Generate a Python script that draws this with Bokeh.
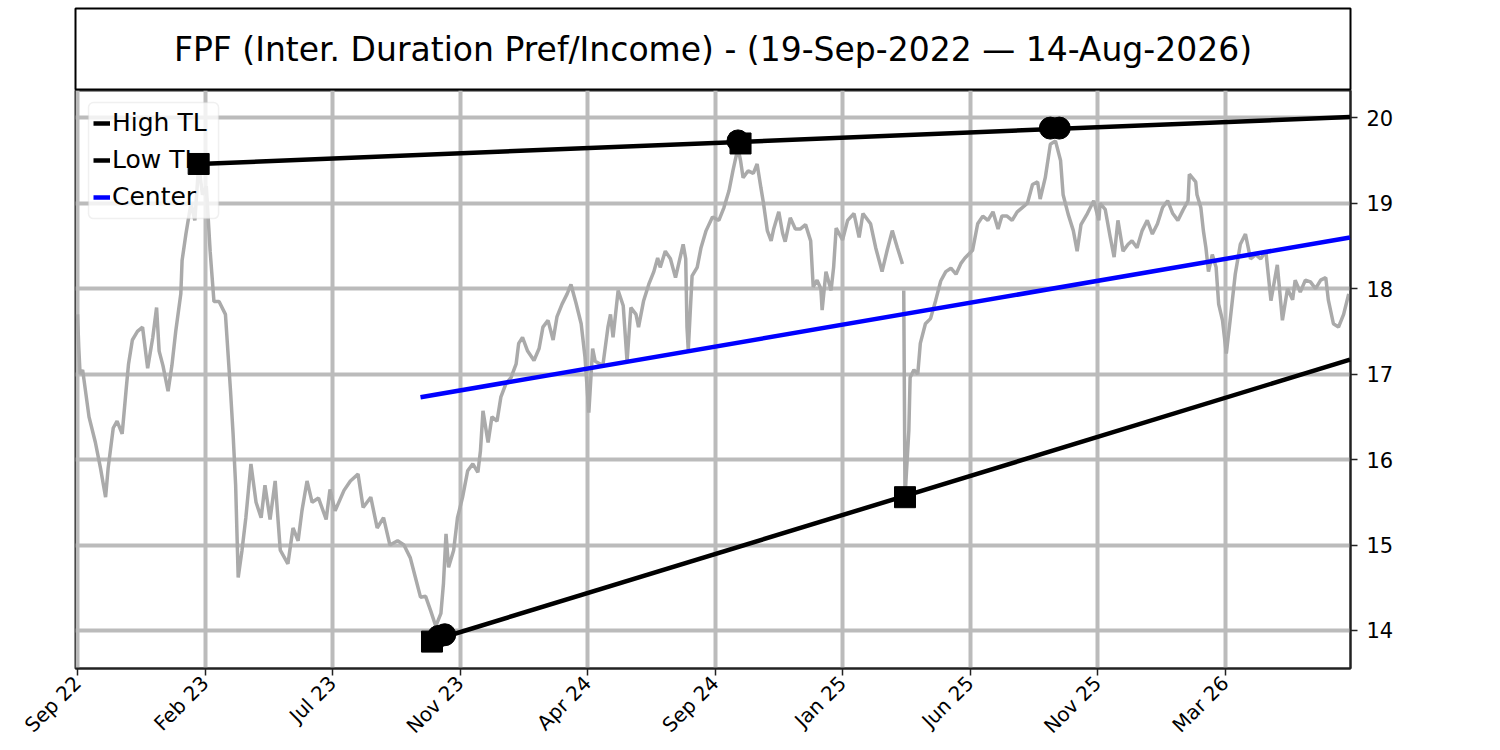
import math
from bokeh.plotting import figure
from bokeh.models import Range1d, FixedTicker, Legend, LegendItem, BoxAnnotation
from bokeh.layouts import column
from bokeh.embed import file_html
from bokeh.resources import INLINE
from bokeh.core.properties import value

title_text = "FPF (Inter. Duration Pref/Income) - (19-Sep-2022 \u2014 14-Aug-2026)"

tick_positions = [0, 100, 200, 300, 400, 500, 600, 700, 800, 900]
tick_labels = ["Sep 22", "Feb 23", "Jul 23", "Nov 23", "Apr 24",
               "Sep 24", "Jan 25", "Jun 25", "Nov 25", "Mar 26"]
y_ticks = [14, 15, 16, 17, 18, 19, 20]

nan = float("nan")

bar_index = [
    0, 1, 2, 4, 9, 14, 18, 22, 24, 28, 31, 35, 38, 40, 43, 47, 51, 55, 59, 62,
    64, 67, 71, 74, 77, 81, 82, 85, 89, 92, 95, 98, 101, 104, 107, 111, 116, 120, 122, 124,
    126, 129, 132, 136, 140, 144, 147, 151, 155, 159, 165, 169, 173, 176, 180, 184, 189, 195, 198, 202,
    209, 214, 220, 224, 230, 235, 240, 245, 251, 256, 261, 265, 269, 273, 277, 281, 285, 287, 289, 291,
    295, 298, 302, 306, 310, 314, 316, 318, 322, 325, 329, 332, 336, 340, 344, 346, 349, 353, 358, 362,
    365, 369, 373, 376, 380, 384, 387, 391, 395, 398, 401, 404, 406, 412, 416, 418, 420, 424, 428, 431,
    434, 438, 440, 444, 448, 452, 455, 457, 461, 465, 469, 475, 477, 478, 479, 482, 486, 489, 493, 498,
    503, 507, 511, 514, 518, 520, 522, 526, 530, 533, 536, 538, 541, 544, 546, 550, 553, 555, 559, 563,
    567, 571, 575, 577, 580, 583, 584, 587, 591, 593, 595, 600, 604, 609, 613, 616, 622, 626, 631, 635,
    639, 643, 647, 647.5, 648, 649, 652, 653, 656, 659, 661, 665, 669, 673, 677, 681, 685, 689, 693, 696,
    702, 706, 710, 714, 718, 722, 725, 729, 733, 737, 741, 745, 749, 753, 755, 759, 763, 767, 771, 773,
    777, 781, 784, 787, 792, 797, 801, 802, 806, 810, 813, 816, 820, 824, 827, 831, 835, 839, 843, 847,
    851, 855, 859, 863, 867, 871, 872, 877, 878, 881, 883, 885, 887, 890, 893, 895, 898, 901, 904, 908,
    912, 916, 920, 924, 928, 932, 936, 941, 945, 949, 953, 955, 959, 963, 967, 971, 975, 979, 981, 985,
    989, 993, 997,
]

close = [
    17.7, 17.3, 17.0, 17.05, 16.5, 16.2, 15.9, 15.56, 15.9, 16.37, 16.45, 16.3, 16.8, 17.12, 17.4, 17.5, 17.55, 17.07, 17.43, 17.78,
    17.27, 17.1, 16.8, 17.1, 17.5, 17.94, 18.33, 18.64, 19.0, 18.8, 19.45, 19.1, 19.2, 18.44, 17.85, 17.85, 17.7, 16.8, 16.3, 15.7,
    14.62, 14.94, 15.32, 15.95, 15.5, 15.32, 15.7, 15.3, 15.75, 14.94, 14.78, 15.2, 15.05, 15.4, 15.75, 15.5, 15.55, 15.3, 15.65, 15.4,
    15.64, 15.75, 15.83, 15.44, 15.56, 15.2, 15.32, 15.0, 15.05, 15.0, 14.85, 14.62, 14.39, 14.4, 14.23, 14.05, 14.2, 14.55, 15.13, 14.74,
    14.94, 15.32, 15.56, 15.87, 15.95, 15.85, 16.1, 16.57, 16.2, 16.5, 16.45, 16.73, 16.89, 16.96, 17.12, 17.36, 17.43, 17.27, 17.16, 17.3,
    17.55, 17.63, 17.4, 17.67, 17.82, 17.94, 18.05, 17.83, 17.59, 17.2, 16.55, 17.3, 17.15, 17.1, 17.55, 17.7, 17.43, 17.98, 17.8, 17.15,
    17.78, 17.7, 17.55, 17.86, 18.05, 18.2, 18.36, 18.25, 18.44, 18.35, 18.13, 18.52, 18.35, 17.55, 17.28, 18.15, 18.25, 18.48, 18.68, 18.84,
    18.8, 18.95, 19.15, 19.38, 19.65, 19.5, 19.3, 19.38, 19.35, 19.46, 19.18, 19.0, 18.68, 18.56, 18.7, 18.9, 18.65, 18.55, 18.83, 18.7,
    18.7, 18.75, 18.56, 18.02, 18.1, 18.0, 17.75, 18.2, 17.98, 18.25, 18.71, 18.57, 18.8, 18.88, 18.6, 18.88, 18.76, 18.48, 18.2, 18.45,
    18.68, 18.48, 18.29, nan, 17.98, 15.56, 16.34, 16.96, 17.05, 17.0, 17.36, 17.59, 17.65, 17.86, 18.09, 18.2, 18.24, 18.17, 18.3, 18.36,
    18.45, 18.76, 18.85, 18.8, 18.9, 18.7, 18.85, 18.85, 18.8, 18.9, 18.95, 19.0, 19.22, 19.25, 19.05, 19.3, 19.69, 19.73, 19.5, 19.1,
    18.87, 18.68, 18.44, 18.75, 18.88, 19.03, 18.8, 19.0, 18.93, 18.6, 18.37, 18.8, 18.44, 18.52, 18.56, 18.48, 18.68, 18.8, 18.64, 18.76,
    18.95, 19.03, 18.88, 18.8, 18.92, 19.03, 19.34, 19.25, 19.1, 18.95, 18.68, 18.48, 18.2, 18.4, 18.25, 17.82, 17.63, 17.24, 17.63, 18.17,
    18.52, 18.64, 18.35, 18.4, 18.35, 18.44, 17.86, 18.28, 17.63, 18.0, 17.87, 18.1, 17.96, 18.1, 18.08, 18.0, 18.1, 18.13, 17.87, 17.59,
    17.55, 17.7, 17.94,
]

high_tl_x = [95, 998]
high_tl_y = [19.46, 20.01]
low_tl_x = [278, 998]
low_tl_y = [13.88, 17.17]
center_x = [269, 998]
center_y = [16.73, 18.60]

square_x = [95, 520, 278, 649]
square_y = [19.46, 19.70, 13.87, 15.56]
circle_x = [518, 763, 770, 283, 288]
circle_y = [19.73, 19.88, 19.88, 13.93, 13.95]

FONT = "DejaVu Sans"
W = 1490
LEFT = 75
RIGHT = W - 1350

# ---- title box ----
tp = figure(width=W, height=90, x_range=Range1d(0, 1), y_range=Range1d(0, 1),
            toolbar_location=None, output_backend="svg",
            x_axis_location=None, y_axis_location=None,
            min_border_left=LEFT, min_border_right=RIGHT, min_border_top=8, min_border_bottom=0)
tp.grid.visible = False
tp.outline_line_color = "black"
tp.outline_line_width = 2
tp.text(x=[0.5], y=[0.5], text=[title_text], text_align="center", text_baseline="middle",
        text_font=value(FONT), text_font_size="33px", text_color="black")

# ---- main chart ----
p = figure(width=W, height=660, x_range=Range1d(-1.6, 998.4), y_range=Range1d(13.555, 20.32),
           toolbar_location=None, output_backend="svg", y_axis_location="right",
           min_border_left=LEFT, min_border_right=RIGHT, min_border_top=0, min_border_bottom=82)
p.outline_line_color = "#222222"
p.outline_line_width = 2

p.xaxis.ticker = FixedTicker(ticks=tick_positions)
p.xaxis.major_label_overrides = {t: l for t, l in zip(tick_positions, tick_labels)}
p.xaxis.major_label_orientation = math.pi / 4
p.yaxis.ticker = FixedTicker(ticks=y_ticks)
for ax in (p.xaxis[0], p.yaxis[0]):
    ax.major_label_text_font = FONT
    ax.major_label_text_color = "black"
    ax.axis_line_color = "#222222"
    ax.axis_line_width = 2
    ax.major_tick_line_color = "#222222"
    ax.major_tick_line_width = 1.5
    ax.major_tick_in = 0
    ax.major_tick_out = 7
    ax.minor_tick_line_color = None
p.xaxis.major_label_text_font_size = "20px"
p.xaxis.major_label_standoff = 4
p.yaxis.major_label_text_font_size = "21px"
p.yaxis.major_label_standoff = 9

p.xgrid.ticker = FixedTicker(ticks=tick_positions)
p.ygrid.ticker = FixedTicker(ticks=y_ticks)
for g in (p.xgrid[0], p.ygrid[0]):
    g.grid_line_color = "#bbbbbb"
    g.grid_line_width = 4

# price line
p.line(bar_index, close, line_color="#aaaaaa", line_width=3.5)

# legend frame (drawn on the canvas, under the trend lines and markers)
legend_box = BoxAnnotation(left=8.6, right=110.6, top=20.179, bottom=18.821,
                           fill_color="white", fill_alpha=0.8,
                           line_color="#cccccc", line_width=1.5, border_radius=5,
                           level="annotation", editable=False)
p.add_layout(legend_box)

r_high = p.line(high_tl_x, high_tl_y, line_color="black", line_width=4.5, level="overlay")
r_low = p.line(low_tl_x, low_tl_y, line_color="black", line_width=4.5, level="overlay")
r_center = p.line(center_x, center_y, line_color="blue", line_width=4.5, level="overlay")
p.scatter(square_x, square_y, marker="square", size=21, color="black", level="overlay")
p.scatter(circle_x, circle_y, marker="circle", size=22, color="black", level="overlay")

legend = Legend(items=[LegendItem(label="High TL", renderers=[r_high]),
                       LegendItem(label="Low TL", renderers=[r_low]),
                       LegendItem(label="Center", renderers=[r_center])],
                location="top_left")
legend.label_text_font = FONT
legend.label_text_font_size = "25px"
legend.label_text_color = "black"
legend.glyph_width = 17
legend.glyph_height = 24
legend.label_standoff = 2
legend.label_height = 24
legend.spacing = 8
legend.padding = 0
legend.margin = 18
legend.border_line_color = None
legend.background_fill_alpha = 0
p.add_layout(legend, "center")

layout = column(tp, p, spacing=0)
open("out.html", "w").write(file_html(layout, INLINE))
